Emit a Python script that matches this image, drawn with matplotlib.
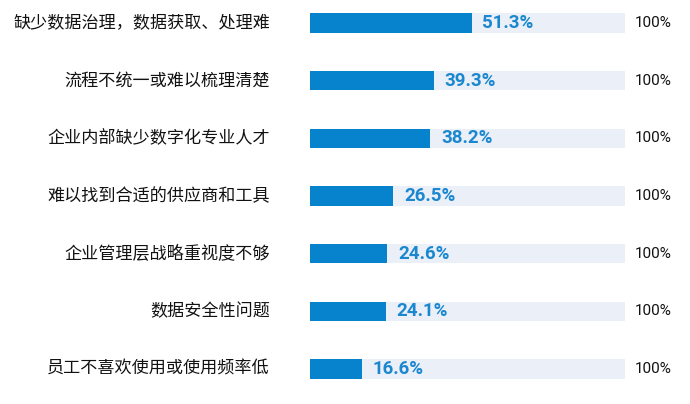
import numpy as np
import matplotlib
matplotlib.use("Agg")
import matplotlib.pyplot as plt

# data
categories = ["缺少数据治理，数据获取、处理难", "流程不统一或难以梳理清楚", "企业内部缺少数字化专业人才",
              "难以找到合适的供应商和工具", "企业管理层战略重视度不够", "数据安全性问题", "员工不喜欢使用或使用频率低"]
values = [51.3, 39.3, 38.2, 26.5, 24.6, 24.1, 16.6]
totals = [100, 100, 100, 100, 100, 100, 100]

bar_color = "#0783CD"
bg_color = "#EAEFF8"
txt_color = "#1A87CF"

fig = plt.figure(figsize=(6.9, 4.04), dpi=100)
ax = fig.add_axes([310 / 690, 0, 315 / 690, 1])

y = np.arange(len(categories))
ax.barh(y, totals, height=0.33, color=bg_color)
ax.barh(y, values, height=0.33, color=bar_color)

for i, (c, v, t) in enumerate(zip(categories, values, totals)):
    ax.text(-12.7, i, c, ha="right", va="center", fontsize=12.3,
            family=["Noto Sans CJK SC", "DejaVu Sans"], color="#111111")
    ax.text(v + 3.4, i, f"{v}%", ha="left", va="center", fontsize=13.5,
            family="Roboto", fontweight="bold", color=txt_color)
    ax.text(t + 3.2, i, f"{t}%", ha="left", va="center", fontsize=11,
            family="Roboto", color="#111111")

ax.set_xlim(0, 100)
ax.set_ylim(6.607, -0.399)
ax.axis("off")

fig.savefig("out.png", dpi=100)
